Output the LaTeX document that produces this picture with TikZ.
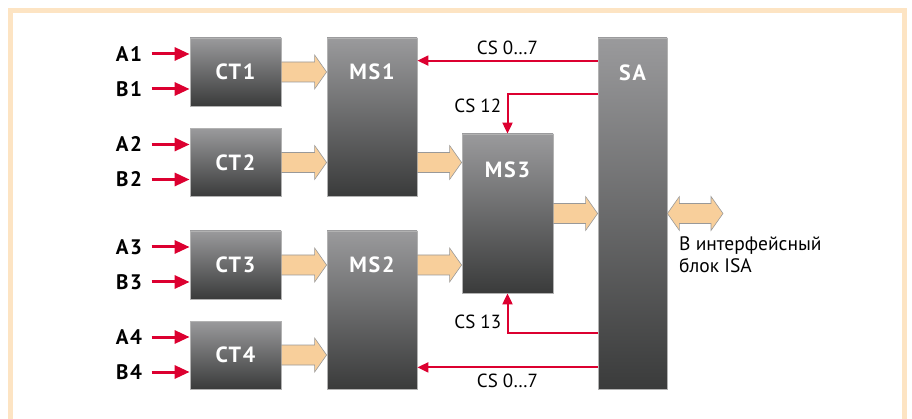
\documentclass[tikz,border=0pt]{standalone}
\usepackage{fontspec}
\setmainfont{PT Sans}
\newfontfamily\razryadka[LetterSpace=8]{PT Sans}
\usetikzlibrary{arrows.meta,calc}

\definecolor{ramkacvet}{HTML}{FDE4C3}
\definecolor{krasn}{HTML}{DC0030}
\definecolor{oranzh}{HTML}{F8CF9B}
\definecolor{blokverh}{HTML}{9A9A9C}
\definecolor{bloknizh}{HTML}{3A3B3B}

\tikzset{
  blok/.style={draw=black!30, line width=0.8pt, top color=blokverh, bottom color=bloknizh, inner sep=0pt},
  imya/.style={text=white, font=\razryadka\bfseries\fontsize{22}{22}\selectfont},
  metka/.style={font=\razryadka\bfseries\fontsize{21}{21}\selectfont},
  cs/.style={font=\fontsize{19}{19}\selectfont},
  podpis/.style={font=\fontsize{19.5}{22.5}\selectfont, align=left, inner sep=0pt},
  vhod/.style={draw=krasn, line width=3pt, -{Triangle[length=15pt,width=13pt]}},
  upr/.style={draw=krasn, line width=2pt, -{Triangle[length=11pt,width=10pt]}},
  shina/.style={fill=oranzh, draw=black!40, line width=0.6pt},
}

% широкая стрелка (шина)
\newcommand{\shina}[2]{%
  \draw[shina] let \p1=(#1), \p2=(#2) in
    (\x1,\y1+10pt) -- (\x2-12pt,\y1+10pt) -- (\x2-12pt,\y1+17pt) -- (\x2,\y1)
    -- (\x2-12pt,\y1-17pt) -- (\x2-12pt,\y1-10pt) -- (\x1,\y1-10pt) -- cycle;}
% двунаправленная шина
\newcommand{\dvshina}[2]{%
  \draw[shina] let \p1=(#1), \p2=(#2) in
    (\x1,\y1) -- (\x1+12pt,\y1+17pt) -- (\x1+12pt,\y1+10pt) -- (\x2-12pt,\y1+10pt)
    -- (\x2-12pt,\y1+17pt) -- (\x2,\y1) -- (\x2-12pt,\y1-17pt) -- (\x2-12pt,\y1-10pt)
    -- (\x1+12pt,\y1-10pt) -- (\x1+12pt,\y1-17pt) -- cycle;}

\begin{document}
\begin{tikzpicture}[x=1pt,y=-1pt]
    \useasboundingbox (0,0) rectangle (912,419);

    % Рамка
    \draw[ramkacvet, line width=5pt] (10.5,419) -- (10.5,10.5) -- (904.5,10.5) -- (904.5,419);

    % Счётчики CT и входы A, B
    \foreach \i/\y in {1/72, 2/162.5, 3/265, 4/355} {
        \node[blok, minimum width=91pt, minimum height=68pt] (ct\i) at (235.5,\y) {};
        \node[imya] at (ct\i) {CT\i};
        \node[metka] (a\i) at (129,\y-18) {A\i};
        \node[metka] (b\i) at (129,\y+17) {B\i};
        \draw[vhod] ([xshift=6pt]a\i.east) -- (a\i -| ct\i.west);
        \draw[vhod] ([xshift=6pt]b\i.east) -- (b\i -| ct\i.west);
    }

    % Мультиплексоры MS и блок SA
    \node[blok, minimum width=90pt, minimum height=158pt] (ms1) at (372,117) {};
    \node[blok, minimum width=90pt, minimum height=158pt] (ms2) at (372,310) {};
    \node[blok, minimum width=91pt, minimum height=159pt] (ms3) at (507.5,213.5) {};
    \node[blok, minimum width=69pt, minimum height=351pt] (sa) at (632.5,213.5) {};
    \node[imya] at ([yshift=-34pt]ms1.north) {MS1};
    \node[imya] at ([yshift=-34pt]ms2.north) {MS2};
    \node[imya] at ([yshift=-36pt]ms3.north) {MS3};
    \node[imya] at ([yshift=-35pt]sa.north) {SA};

    % Шины
    \foreach \i in {1,2} \shina{ct\i.east}{ms1.west};
    \foreach \i in {3,4} \shina{ct\i.east}{ms2.west};
    \shina{ms1.east |- ct2}{ms3.west}
    \shina{ms2.east |- ct3}{ms3.west}
    \shina{ms3.east}{sa.west}
    \coordinate (isa) at (723,213.5);
    \dvshina{sa.east}{isa}
    \node[podpis, anchor=north west] (isatxt) at (679,236) {В интерфейсный\\блок ISA};

    % Сигналы выбора CS
    \coordinate (cs1) at ([yshift=-23pt]sa.north west);
    \coordinate (cs2) at ([yshift=-56pt]sa.north west);
    \coordinate (cs3) at ([yshift=56pt]sa.south west);
    \coordinate (cs4) at ([yshift=22pt]sa.south west);
    \draw[upr] (cs1) -- (cs1 -| ms1.east) node[cs, midway, above=2pt] {CS 0…7};
    \draw[upr] (cs2) -| (ms3.north) node[cs, pos=0.65, left=2pt] {CS 12};
    \draw[upr] (cs3) -| (ms3.south) node[cs, pos=0.65, left=2pt] {CS 13};
    \draw[upr] (cs4) -- (cs4 -| ms2.east) node[cs, midway, below=2pt] {CS 0…7};
\end{tikzpicture}
\end{document}
